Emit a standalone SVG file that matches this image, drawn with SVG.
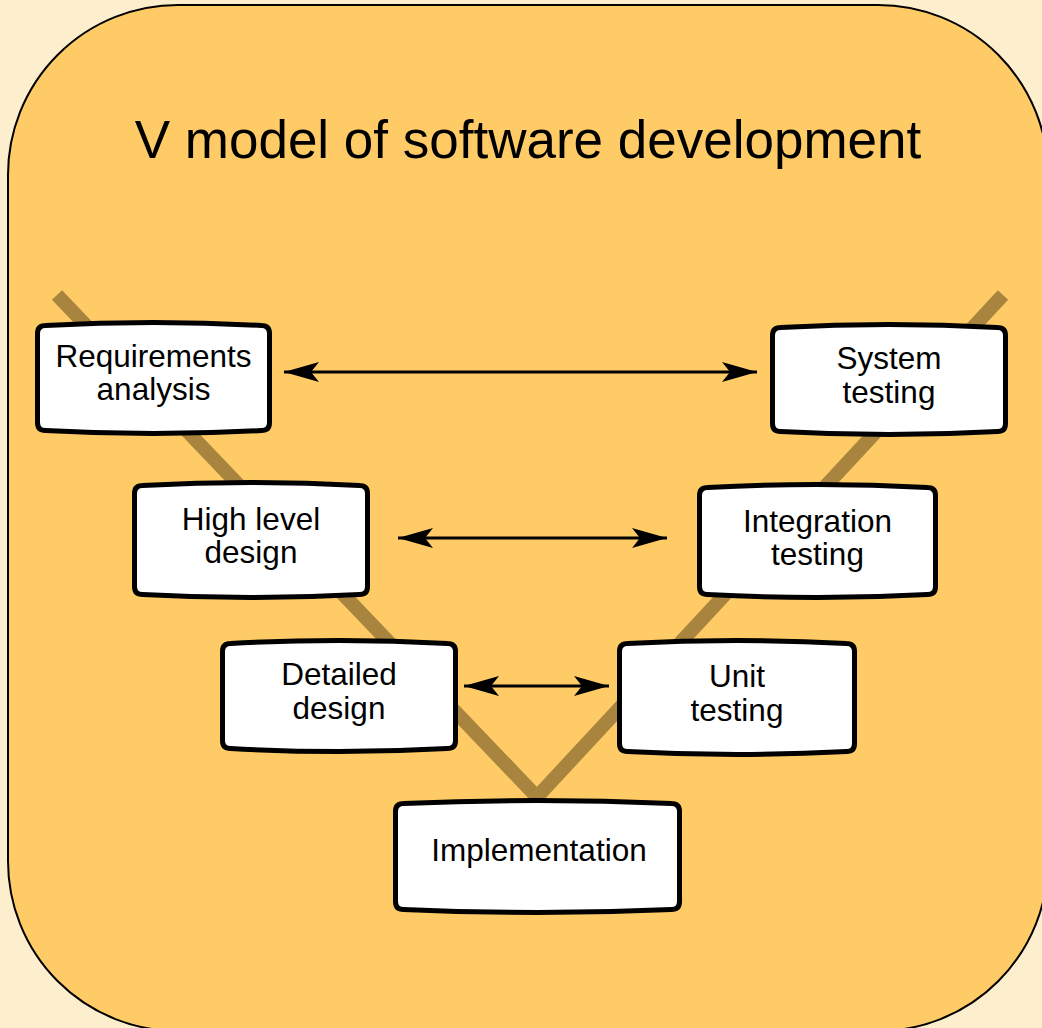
<svg xmlns="http://www.w3.org/2000/svg" width="1042" height="1028" viewBox="0 0 1042 1028">
<style>
.node path{fill:#ffffff;stroke:#000000;stroke-width:5;stroke-linejoin:round}
.lbl{font-family:"Liberation Sans",Arial,sans-serif;font-size:31.5px;fill:#000000;text-anchor:middle}
.arrow{stroke:#000000;stroke-width:3;fill:none;marker-start:url(#ah);marker-end:url(#ah)}
</style>
<defs>
<marker id="ah" markerUnits="userSpaceOnUse" markerWidth="36" markerHeight="22" viewBox="0 0 36 22" refX="35" refY="11" orient="auto-start-reverse">
<path d="M35,11 L0,1 L8,11 L0,21 Z" fill="#000000"/>
</marker>
</defs>
<rect x="0" y="0" width="1042" height="1028" fill="#fdefce"/>
<rect x="8" y="5" width="1040" height="1026" rx="170" ry="170" fill="#fecb66" stroke="#000000" stroke-width="2"/>
<text x="528" y="158" font-family="Liberation Sans,Arial,sans-serif" font-size="53" text-anchor="middle" fill="#000000">V model of software development</text>
<polyline points="57,295 537,797 1003,295" fill="none" stroke="#a8843f" stroke-width="14" stroke-linejoin="miter"/>
<g id="connectors">
<line class="arrow" x1="284" y1="372" x2="757" y2="372"/>
<line class="arrow" x1="398" y1="538" x2="667" y2="538"/>
<line class="arrow" x1="464" y1="686" x2="609" y2="686"/>
</g>
<g id="requirements" class="node">
<path d="M45.5,325.5 Q153.5,319.5 261.5,325.5 Q269.5,325.5 269.5,333.5 L269.5,422.5 Q269.5,430.5 261.5,430.5 Q153.5,436.5 45.5,430.5 Q37.5,430.5 37.5,422.5 L37.5,333.5 Q37.5,325.5 45.5,325.5 Z"/>
<text class="lbl" x="153.5" y="367">Requirements</text>
<text class="lbl" x="153.5" y="400">analysis</text>
</g>
<g id="system" class="node">
<path d="M780.5,327.5 Q889,321.5 997.5,327.5 Q1005.5,327.5 1005.5,335.5 L1005.5,423.5 Q1005.5,431.5 997.5,431.5 Q889,437.5 780.5,431.5 Q772.5,431.5 772.5,423.5 L772.5,335.5 Q772.5,327.5 780.5,327.5 Z"/>
<text class="lbl" x="889" y="369">System</text>
<text class="lbl" x="889" y="403">testing</text>
</g>
<g id="highlevel" class="node">
<path d="M142.5,485.5 Q251,479.5 359.5,485.5 Q367.5,485.5 367.5,493.5 L367.5,586.5 Q367.5,594.5 359.5,594.5 Q251,600.5 142.5,594.5 Q134.5,594.5 134.5,586.5 L134.5,493.5 Q134.5,485.5 142.5,485.5 Z"/>
<text class="lbl" x="251" y="530">High level</text>
<text class="lbl" x="251" y="563">design</text>
</g>
<g id="integration" class="node">
<path d="M707.5,487.5 Q817.5,481.5 927.5,487.5 Q935.5,487.5 935.5,495.5 L935.5,586.5 Q935.5,594.5 927.5,594.5 Q817.5,600.5 707.5,594.5 Q699.5,594.5 699.5,586.5 L699.5,495.5 Q699.5,487.5 707.5,487.5 Z"/>
<text class="lbl" x="817.5" y="532">Integration</text>
<text class="lbl" x="817.5" y="565">testing</text>
</g>
<g id="detailed" class="node">
<path d="M230.5,643.5 Q339,637.5 447.5,643.5 Q455.5,643.5 455.5,651.5 L455.5,740.5 Q455.5,748.5 447.5,748.5 Q339,754.5 230.5,748.5 Q222.5,748.5 222.5,740.5 L222.5,651.5 Q222.5,643.5 230.5,643.5 Z"/>
<text class="lbl" x="339" y="685">Detailed</text>
<text class="lbl" x="339" y="719">design</text>
</g>
<g id="unit" class="node">
<path d="M627.5,643.5 Q737,637.5 846.5,643.5 Q854.5,643.5 854.5,651.5 L854.5,743.5 Q854.5,751.5 846.5,751.5 Q737,757.5 627.5,751.5 Q619.5,751.5 619.5,743.5 L619.5,651.5 Q619.5,643.5 627.5,643.5 Z"/>
<text class="lbl" x="737" y="687">Unit</text>
<text class="lbl" x="737" y="721">testing</text>
</g>
<g id="implementation" class="node">
<path d="M403.5,803.5 Q537.5,797.5 671.5,803.5 Q679.5,803.5 679.5,811.5 L679.5,901.5 Q679.5,909.5 671.5,909.5 Q537.5,915.5 403.5,909.5 Q395.5,909.5 395.5,901.5 L395.5,811.5 Q395.5,803.5 403.5,803.5 Z"/>
<text class="lbl" x="539" y="861">Implementation</text>
</g>
</svg>
